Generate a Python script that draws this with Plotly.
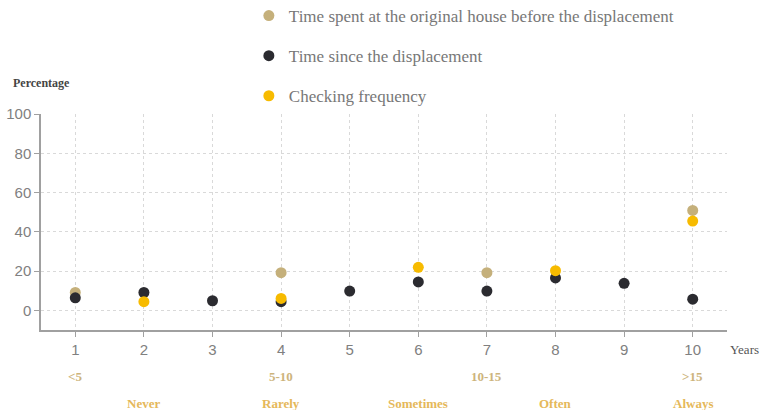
import plotly.graph_objects as go

# ---- data ----
x_ticks = [1, 2, 3, 4, 5, 6, 7, 8, 9, 10]

house_x = [1, 4, 7, 10]
house_y = [9.1, 19.2, 19.2, 50.9]

since_x = [1, 2, 3, 4, 5, 6, 7, 8, 9, 10]
since_y = [6.4, 9.1, 4.9, 4.4, 9.8, 14.5, 9.8, 16.5, 13.8, 5.7]

check_x = [2, 4, 6, 8, 10]
check_y = [4.4, 6.1, 21.9, 20.2, 45.5]

time_labels = ["<5", "5-10", "10-15", ">15"]
time_label_x = [1, 4, 7, 10]
freq_labels = ["Never", "Rarely", "Sometimes", "Often", "Always"]
freq_label_x = [2, 4, 6, 8, 10]

names = ["Time spent at the original house before the displacement",
         "Time since the displacement",
         "Checking frequency"]
colors = ["#c5b07b", "#2b2b30", "#f7bb00"]

fig = go.Figure()
for i, (xs, ys) in enumerate([(house_x, house_y), (since_x, since_y), (check_x, check_y)]):
    fig.add_trace(go.Scatter(
        x=xs, y=ys, mode="markers", name=names[i], legendgroup=f"g{i}",
        marker=dict(size=11, color=colors[i], line=dict(width=0)),
    ))

ann = []
for t, xv in zip(time_labels, time_label_x):
    ann.append(dict(x=xv, y=-0.215, xref="x", yref="paper", text=f"<b>{t}</b>",
                    showarrow=False, yanchor="middle",
                    font=dict(family="Liberation Serif", size=13, color="#cdb47c")))
for t, xv in zip(freq_labels, freq_label_x):
    ann.append(dict(x=xv, y=-0.34, xref="x", yref="paper", text=f"<b>{t}</b>",
                    showarrow=False, yanchor="middle",
                    font=dict(family="Liberation Serif", size=13, color="#e5b85a")))
ann.append(dict(x=1.026, y=-0.088, xref="paper", yref="paper", text="Years",
                showarrow=False, yanchor="middle", xanchor="center",
                font=dict(family="Liberation Serif", size=13, color="#555555")))
ann.append(dict(x=0.0, y=1.144, xref="paper", yref="paper", text="<b>Percentage</b>",
                showarrow=False, yanchor="middle", xanchor="center",
                font=dict(family="Liberation Serif", size=12, color="#444444")))

fig.update_layout(
    width=761, height=410,
    margin=dict(l=41, r=34, t=114, b=80, autoexpand=False),
    paper_bgcolor="white", plot_bgcolor="white",
    showlegend=True,
    legend=dict(x=0.303, y=1.537,
                xanchor="left", yanchor="top", tracegroupgap=15,
                font=dict(family="Liberation Serif", size=17, color="#777777"),
                bgcolor="rgba(0,0,0,0)"),
    annotations=ann,
    xaxis=dict(range=[0.5, 10.5], tickvals=x_ticks, ticktext=[str(v) for v in x_ticks],
               showgrid=True, gridcolor="#d9d9d9", griddash="dot", gridwidth=1,
               showline=True, linecolor="#a0a0a0", linewidth=1.5,
               ticks="outside", ticklen=5, tickcolor="#a0a0a0",
               zeroline=False,
               tickfont=dict(family="Liberation Sans", size=15, color="#808080")),
    yaxis=dict(range=[-10, 100], tickvals=[0, 20, 40, 60, 80, 100],
               showgrid=True, gridcolor="#d9d9d9", griddash="dot", gridwidth=1,
               showline=True, linecolor="#a0a0a0", linewidth=1.5,
               ticks="outside", ticklen=5, tickcolor="#a0a0a0",
               zeroline=False,
               tickfont=dict(family="Liberation Sans", size=15, color="#808080")),
)

fig.write_html("out.html",
               config={"displayModeBar": False},
               post_script="document.body.style.margin='0px';document.body.style.overflow='hidden';")
